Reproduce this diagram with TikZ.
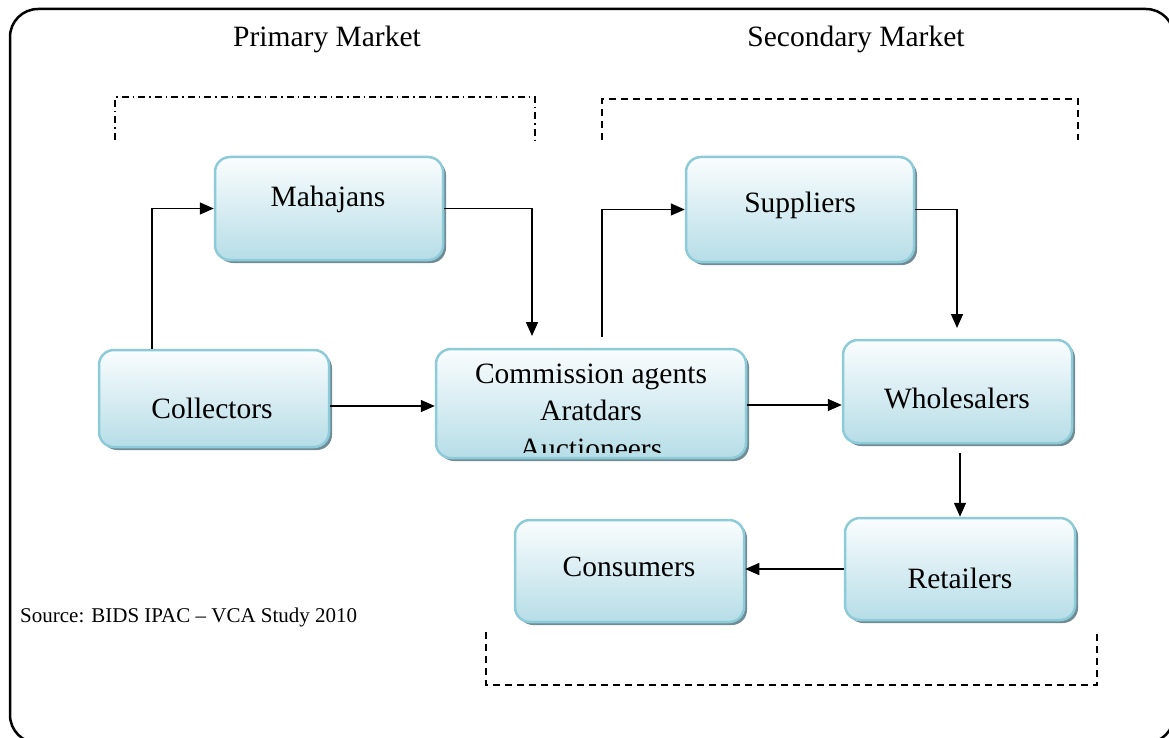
\documentclass[tikz,border=0pt]{standalone}
\usepackage{fontspec}
\setmainfont{Liberation Serif}
\usetikzlibrary{arrows.meta,shadows,calc}
\definecolor{boxline}{RGB}{141,203,217}
\definecolor{boxtop}{RGB}{250,253,254}
\definecolor{boxbot}{RGB}{182,221,231}
\definecolor{shad}{RGB}{112,140,150}
\begin{document}
\begin{tikzpicture}[x=1pt,y=-1pt,
  box/.style={rounded corners=15pt, draw=boxline, line width=2.5pt,
    top color=boxtop, bottom color=boxbot,
    general shadow={shadow xshift=3pt, shadow yshift=-3pt, fill=shad},
    inner sep=0pt},
  lbl/.style={font=\fontsize{29.5}{36}\selectfont, anchor=base, inner sep=0pt},
  arr/.style={line width=1.5pt, -{Triangle[length=14pt,width=12pt]}},
  dashdotline/.style={line width=1.8pt, dash pattern=on 7pt off 4pt on 1.5pt off 4pt},
  dashline/.style={line width=1.8pt, dash pattern=on 7pt off 5pt}]
\useasboundingbox (0,0) rectangle (1169,738);
% outer frame
\draw[line width=2.5pt, rounded corners=28pt] (10,9) rectangle (1174,743);

% titles
\node[lbl] (tprim) at (327,47) {Primary Market};
\node[lbl] (tsec) at (856,47) {Secondary Market};

% brackets
\draw[dashdotline] (115,140) -- (115,97) -- (535,97) -- (535,142);
\draw[dashline] (602,140) -- (602,99) -- (1078,99) -- (1078,140);
\draw[dashline] (486,632) -- (486,685) -- (1097,685) -- (1097,632);

% boxes
\node[box, minimum width=228pt, minimum height=103pt] (mah) at (329,208.5) {};
\node[box, minimum width=228pt, minimum height=105pt] (sup) at (800,209.5) {};
\node[box, minimum width=230pt, minimum height=97pt] (col) at (214,398.5) {};
\node[box, minimum width=310pt, minimum height=109pt] (com) at (591,403.5) {};
\node[box, minimum width=229pt, minimum height=103pt] (who) at (957.5,391.5) {};
\node[box, minimum width=229pt, minimum height=102pt] (con) at (629.5,571) {};
\node[box, minimum width=230pt, minimum height=102pt] (ret) at (960,569) {};

% labels
\node[lbl] (lmah) at (328,206) {Mahajans};
\node[lbl] (lsup) at (800,212) {Suppliers};
\node[lbl] (lcol) at (212,418) {Collectors};
\node[lbl] (lwho) at (957,408) {Wholesalers};
\node[lbl] (lcon) at (629,576) {Consumers};
\node[lbl] (lret) at (960,588) {Retailers};
\begin{scope}
  \clip (436,349) rectangle (746,452);
  \node[lbl] (lcom1) at (591,383) {Commission agents};
  \node[lbl] (lcom2) at (591,420) {Aratdars};
  \node[lbl] (lcom3) at (591,458) {Auctioneers};
\end{scope}

\node[font=\fontsize{21}{25}\selectfont, anchor=base west, inner sep=0pt] (src) at (20,622) {Source: BIDS IPAC -- VCA Study 2010};

% connectors
\coordinate (c1) at (152,300);
\coordinate (m2) at (532,336);
\coordinate (c3) at (602,337);
\coordinate (s2) at (957,328);
\coordinate (w1) at (960,453);
\coordinate (h1) at (0,406);
\coordinate (h2) at (0,405);
\draw[arr] (c1 |- col.north) |- (mah.west);
\draw[arr] (mah.east) -| (m2);
\draw[arr] (c3) |- (sup.west);
\draw[arr] (sup.east) -| (s2);
\draw[arr] (col.east |- h1) -- (com.west |- h1);
\draw[arr] (com.east |- h2) -- (who.west |- h2);
\draw[arr] (w1) -- (ret.north -| w1);
\draw[arr] (ret.west) -- (con.east |- ret.west);
\end{tikzpicture}
\end{document}
